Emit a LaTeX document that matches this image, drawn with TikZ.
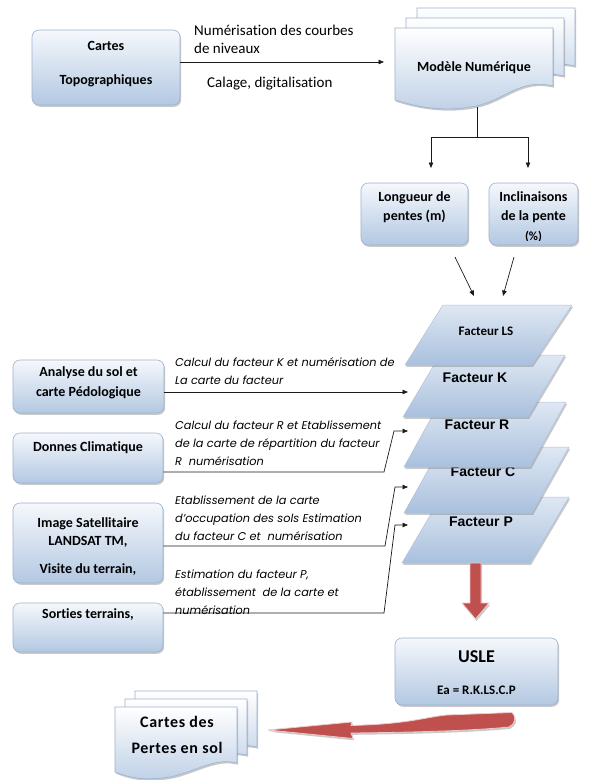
\documentclass[tikz,border=0pt]{standalone}
\usepackage{fontspec}
\setmainfont{Carlito}[Ligatures=CommonOff]
\newfontfamily\widef{Carlito}[LetterSpace=4,Ligatures=CommonOff]
\newfontfamily\arialf{Liberation Sans}
\newfontfamily\gothf{Poppins}
\usetikzlibrary{arrows.meta,shadows}
\definecolor{topc}{HTML}{F5F8FC}
\definecolor{botc}{HTML}{B3C8E2}
\definecolor{bordc}{HTML}{9CB2CF}
\definecolor{laytop}{HTML}{DFE8F3}
\definecolor{laybot}{HTML}{A9C0DD}
\definecolor{redc}{HTML}{C0504D}
\definecolor{linec}{HTML}{1A1A1A}
\tikzset{
  shad/.style={drop shadow={shadow xshift=1.2pt,shadow yshift=-1.8pt,opacity=0.35,fill=black!60}},
  boxst/.style={draw=bordc, line width=0.6pt, rounded corners=7pt, top color=topc, bottom color=botc, shad, inner sep=0pt},
  btxt/.style={font=\bfseries\fontsize{14}{19}\selectfont, align=center, inner sep=0pt, text=black},
  layst/.style={draw=bordc!80, line width=0.5pt, top color=laytop, bottom color=laybot, shad},
  docst/.style={draw=bordc, line width=0.6pt, top color=white, bottom color=botc!85, shad},
  conn/.style={draw=linec, line width=0.7pt},
  arr/.style={conn, -{Triangle[length=5.5pt,width=4.5pt]}},
  lbl/.style={font=\fontsize{15}{18}\selectfont, anchor=west, inner sep=0pt},
  itl/.style={font=\gothf\itshape\fontsize{11.3}{18}\selectfont, align=left, anchor=north west, inner sep=0pt},
  laytxt/.style={font=\arialf\bfseries\fontsize{14}{16}\selectfont, inner sep=0pt},
  redarr/.style={fill=redc, draw=redc!30, line width=0.8pt, shad},
}
\begin{document}
\begin{tikzpicture}[x=1pt,y=-1pt]
\useasboundingbox (0,0) rectangle (597,780);
\fill[white] (0,0) rectangle (597,780);

% ---- Cartes topographiques
\node[boxst, minimum width=148pt, minimum height=75pt] (topo) at (106,67.5) {};
\node[btxt, font=\bfseries\fontsize{14}{17}\selectfont] (topoT) at (106,64) {Cartes\\[17pt]Topographiques};

% ---- Modele numerique (multi document)
\path[docst, shift={(22,-20)}] (395,28) -- (553,28) -- (553,86) .. controls (520,78) and (505,100) .. (476,106) .. controls (447,112) and (420,108) .. (395,100) -- cycle;
\path[docst, shift={(11,-10)}] (395,28) -- (553,28) -- (553,86) .. controls (520,78) and (505,100) .. (476,106) .. controls (447,112) and (420,108) .. (395,100) -- cycle;
\path[docst] (395,28) -- (553,28) -- (553,86) .. controls (520,78) and (505,100) .. (476,106) .. controls (447,112) and (420,108) .. (395,100) -- cycle;
\node[btxt] (model) at (474,68) {Modèle Numérique};

\coordinate (mIn) at (384,62);
\draw[arr] (topo.east |- mIn) -- (mIn);
\node[lbl] (l1) at (194,30) {Numérisation des courbes};
\node[lbl] (l2) at (194,48) {de niveaux};
\node[lbl] (l3) at (207,84) {Calage, digitalisation};

% ---- split to slopes
\coordinate (mOut) at (477,107);
\coordinate (split) at (477,137);
\coordinate (brL) at (431,137);
\coordinate (brR) at (528,137);
\coordinate (aL) at (431,168);
\coordinate (aR) at (528,168);
\draw[conn] (mOut) -- (split);
\draw[conn] (brL) -- (brR);
\draw[arr] (brL) -- (aL);
\draw[arr] (brR) -- (aR);

\node[boxst, minimum width=107pt, minimum height=62pt] (long) at (414.5,214) {};
\node[btxt] (longT) at (414.5,207.5) {Longueur de\\pentes (m)};
\node[boxst, minimum width=89pt, minimum height=62pt] (incl) at (533.5,214) {};
\node[btxt] (inclT) at (533.5,207.5) {Inclinaisons\\de la pente};
\begin{scope}
\clip (490,226) rectangle (577,240.5);
\node[btxt, font=\bfseries\fontsize{12.5}{14}\selectfont] (pct) at (533.5,237) {(\%)};
\end{scope}

\coordinate (dA1) at (455,257);
\coordinate (dA2) at (474,296);
\coordinate (dB1) at (514,257);
\coordinate (dB2) at (503,296);
\draw[arr] (dA1) -- (dA2);
\draw[arr] (dB1) -- (dB2);

% ---- layers (bottom first)
\path[layst] (402,563) -- (530,563) -- (569,497) -- (441,497) -- cycle;
\node[laytxt] (fP) at (481,522) {Facteur P};
\path[layst] (404,513) -- (532,513) -- (569,447) -- (441,447) -- cycle;
\node[laytxt] (fC) at (483,472) {Facteur C};
\path[layst] (404,467) -- (530,467) -- (566,402) -- (440,402) -- cycle;
\node[laytxt] (fR) at (477,425) {Facteur R};
\path[layst] (403,417) -- (528,417) -- (565,355) -- (440,355) -- cycle;
\node[laytxt] (fK) at (475,378) {Facteur K};
\path[layst] (405,365) -- (532,365) -- (572,305) -- (443,305) -- cycle;
\node[btxt, font=\bfseries\fontsize{13}{15}\selectfont] (fLS) at (486,331) {Facteur LS};

% ---- left inputs
\node[boxst, minimum width=151pt, minimum height=53pt] (anal) at (88.5,386.5) {};
\node[btxt, font=\bfseries\fontsize{14}{20}\selectfont] (analT) at (88.5,383) {Analyse du sol et\\carte Pédologique};
\node[boxst, minimum width=150pt, minimum height=50pt] (donn) at (88,458) {};
\node[btxt] (donnT) at (88,448) {Donnes Climatique};
\node[boxst, minimum width=150pt, minimum height=80pt] (imsat) at (88,543) {};
\node[btxt, font=\bfseries\fontsize{14}{18}\selectfont] (imsatT) at (88,547) {Image Satellitaire\\LANDSAT TM,\\[10pt]Visite du terrain,};
\node[boxst, minimum width=150pt, minimum height=49pt] (sort) at (88,627.5) {};
\node[btxt] (sortT) at (88,615) {Sorties terrains,};

% K
\coordinate (kIn) at (408,392);
\draw[arr] (anal.east |- kIn) -- (kIn);
\node[itl] (tK) at (175,357) {Calcul du facteur K et numérisation de\\La carte du facteur};
% R
\coordinate (rA) at (384,472);
\coordinate (rB) at (394,431);
\coordinate (rIn) at (408,431);
\draw[arr] (donn.east |- rA) -- (rA) -- (rB) -- (rIn);
\node[itl] (tR) at (175,421) {Calcul du facteur R et Etablissement\\de la carte de répartition du facteur\\R\ \ numérisation};
% C
\coordinate (cA) at (385,546);
\coordinate (cB) at (395,487);
\coordinate (cIn) at (408,487);
\draw[arr] (imsat.east |- cA) -- (cA) -- (cB) -- (cIn);
\node[itl] (tC) at (175,496) {Etablissement de la carte\\d’occupation des sols Estimation\\du facteur C et\ \ numérisation};
% P
\coordinate (pA) at (384,613);
\coordinate (pB) at (395,525);
\coordinate (pIn) at (408,525);
\draw[arr] (sort.east |- pA) -- (pA) -- (pB) -- (pIn);
\node[itl] (tP) at (175,570) {Estimation du facteur P,\\établissement\ \ de la carte et\\numérisation};

% ---- red arrow down
\path[redarr] (470,563) -- (481,563) -- (481,603) -- (489,603) -- (475.5,619) -- (462,603) -- (470,603) -- cycle;

% ---- USLE
\node[boxst, minimum width=163pt, minimum height=67pt] (usle) at (476.5,671.5) {};
\node[btxt, font=\bfseries\fontsize{18}{20}\selectfont] (usleT) at (476.5,657) {USLE};
\node[btxt, font=\bfseries\fontsize{13}{15}\selectfont] (eqT) at (476.5,690) {Ea = R.K.LS.C.P};

% ---- bottom red arrow
\path[redarr] (268,730) -- (352,722) -- (351,725.5) .. controls (410,724) and (425,717) .. (447,715) -- (512,712.5) .. controls (517,718) and (515,724) .. (509,727) .. controls (470,731) and (400,732.5) .. (351,733) -- (353,738.5) -- cycle;

% ---- Cartes des pertes (multi document)
\path[docst, shift={(20,-16)}] (115,707) -- (237,707) -- (237,763) .. controls (215,757) and (195,772) .. (170,777) .. controls (145,781) and (130,778) .. (115,772) -- cycle;
\path[docst, shift={(10,-8)}] (115,707) -- (237,707) -- (237,763) .. controls (215,757) and (195,772) .. (170,777) .. controls (145,781) and (130,778) .. (115,772) -- cycle;
\path[docst] (115,707) -- (237,707) -- (237,763) .. controls (215,757) and (195,772) .. (170,777) .. controls (145,781) and (130,778) .. (115,772) -- cycle;
\node[btxt, font=\widef\bfseries\fontsize{16}{26}\selectfont] (pertes) at (177,735) {Cartes des\\Pertes en sol};
\end{tikzpicture}
\end{document}
